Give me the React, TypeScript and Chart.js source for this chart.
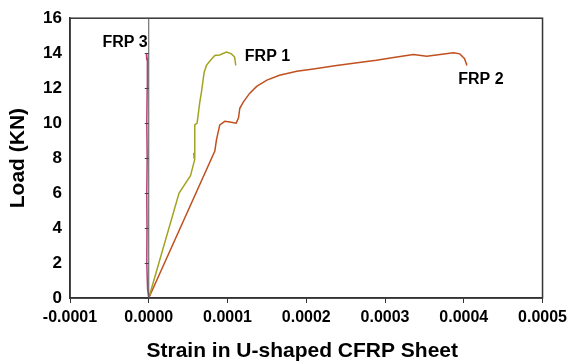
import React, { useEffect, useRef } from "react";
import { Chart, registerables } from "chart.js";

Chart.register(...registerables);

const frp1Strain = [0, 3.85e-5, 5.3e-5, 5.84e-5, 5.7e-5, 5.76e-5, 5.84e-5, 6.14e-5, 6.48e-5, 6.7e-5, 7.03e-5, 7.33e-5, 7.84e-5, 8.39e-5, 9.0e-5, 9.87e-5, 1.05e-4, 1.09e-4, 1.105e-4];
const frp1Load = [0, 6.0, 7.0, 7.93, 8.3, 8.0, 9.9, 10.0, 11.2, 11.8, 12.9, 13.3, 13.6, 13.87, 13.9, 14.06, 13.96, 13.78, 13.3];

const frp2Strain = [0, 8.39e-5, 8.6e-5, 9.02e-5, 9.66e-5, 1.03e-4, 1.11e-4, 1.14e-4, 1.156e-4, 1.2e-4, 1.28e-4, 1.37e-4, 1.5e-4, 1.66e-4, 1.88e-4, 2.09e-4, 2.385e-4, 2.72e-4, 2.89e-4, 3.15e-4, 3.36e-4, 3.53e-4, 3.7e-4, 3.87e-4, 3.95e-4, 4.01e-4, 4.04e-4];
const frp2Load = [0, 8.4, 9.06, 9.9, 10.1, 10.06, 10.0, 10.3, 10.85, 11.2, 11.7, 12.1, 12.46, 12.74, 12.97, 13.1, 13.3, 13.5, 13.6, 13.78, 13.93, 13.82, 13.93, 14.02, 13.96, 13.68, 13.3];

const frp3Strain = [0, -1.5e-6, -2.5e-6, -2.2e-6, -2.5e-6, -2.0e-6, -2.5e-6, -2.0e-6, -2.0e-6, -1.5e-6, -3.0e-6, -2.5e-6];
const frp3Load = [0, 0.5, 2, 4, 6, 8, 10, 12, 13, 13.6, 14, 13.6];

const xTicks = [-0.0001, 0, 0.0001, 0.0002, 0.0003, 0.0004, 0.0005];
const yTicks = [0, 2, 4, 6, 8, 10, 12, 14, 16];

const seriesLabels = [
  { text: "FRP 3", x: -0.0000013, y: 14.6, align: "right" },
  { text: "FRP 1", x: 0.000122, y: 13.8, align: "left" },
  { text: "FRP 2", x: 0.000393, y: 12.5, align: "left" },
];

const toPts = (xs: number[], ys: number[]) => xs.map((x, i) => ({ x, y: ys[i] }));

const FONT = "'Liberation Sans', Arial, sans-serif";

const overlay = {
  id: "overlay",
  afterDraw(chart: any) {
    const { ctx, chartArea, scales } = chart;
    const xs = scales.x;
    const ys = scales.y;
    ctx.save();
    ctx.strokeStyle = "#333";
    ctx.lineWidth = 1.5;
    ctx.strokeRect(chartArea.left, chartArea.top, chartArea.right - chartArea.left, chartArea.bottom - chartArea.top);
    const x0 = xs.getPixelForValue(0);
    ctx.strokeStyle = "#555";
    ctx.lineWidth = 1;
    ctx.beginPath();
    ctx.moveTo(x0, chartArea.top);
    ctx.lineTo(x0, chartArea.bottom);
    ctx.stroke();
    ctx.strokeStyle = "#444";
    yTicks.forEach((t) => {
      const py = Math.round(ys.getPixelForValue(t)) + 0.5;
      ctx.beginPath();
      ctx.moveTo(x0 - 4, py);
      ctx.lineTo(x0, py);
      ctx.stroke();
    });
    ctx.fillStyle = "#000";
    ctx.font = "bold 16px " + FONT;
    ctx.textBaseline = "middle";
    seriesLabels.forEach((l) => {
      ctx.textAlign = l.align as CanvasTextAlign;
      ctx.fillText(l.text, xs.getPixelForValue(l.x), ys.getPixelForValue(l.y));
    });
    ctx.font = "bold 21px " + FONT;
    ctx.textAlign = "center";
    ctx.fillText("Strain in U-shaped CFRP Sheet", (chartArea.left + chartArea.right) / 2 - 4, 351);
    ctx.translate(18, (chartArea.top + chartArea.bottom) / 2);
    ctx.rotate(-Math.PI / 2);
    ctx.fillText("Load (KN)", 0, 0);
    ctx.restore();
  },
};

export default function App() {
  const ref = useRef<HTMLCanvasElement>(null);
  useEffect(() => {
    document.body.style.margin = "0";
    const chart = new Chart(ref.current!, {
      type: "scatter",
      data: {
        datasets: [
          { label: "FRP 3", data: toPts(frp3Strain, frp3Load), showLine: true, borderColor: "#b83c7a", borderWidth: 1.5, pointRadius: 0, tension: 0 },
          { label: "FRP 1", data: toPts(frp1Strain, frp1Load), showLine: true, borderColor: "#a3a321", borderWidth: 1.5, pointRadius: 0, tension: 0 },
          { label: "FRP 2", data: toPts(frp2Strain, frp2Load), showLine: true, borderColor: "#c0501f", borderWidth: 1.5, pointRadius: 0, tension: 0 },
        ],
      },
      options: {
        animation: false,
        responsive: false,
        layout: { padding: { top: 16, right: 29, left: 0, bottom: 0 } },
        plugins: { legend: { display: false }, tooltip: { enabled: false } },
        scales: {
          x: {
            type: "linear",
            min: -0.0001,
            max: 0.0005,
            afterBuildTicks: (s: any) => { s.ticks = xTicks.map((v) => ({ value: v })); },
            afterFit: (s: any) => { s.height = 64; },
            grid: { drawOnChartArea: false, drawTicks: true, tickLength: 5, color: "#333" },
            border: { display: true, color: "#333", width: 1.5 },
            ticks: {
              color: "#000",
              padding: 5,
              maxRotation: 0,
              font: { family: FONT, size: 16, weight: "bold" },
              callback: (v: any) => Number(v).toFixed(4),
            },
          },
          y: {
            type: "linear",
            min: 0,
            max: 16,
            afterBuildTicks: (s: any) => { s.ticks = yTicks.map((v) => ({ value: v })); },
            afterFit: (s: any) => { s.width = 70; },
            grid: { drawOnChartArea: false, drawTicks: false },
            border: { display: true, color: "#333", width: 1.5 },
            ticks: {
              color: "#000",
              padding: 8,
              font: { family: FONT, size: 17, weight: "bold" },
              callback: (v: any) => String(v),
            },
          },
        },
      },
      plugins: [overlay],
    });
    return () => chart.destroy();
  }, []);
  return (
    <div style={{ width: 572, height: 362, background: "#fff" }}>
      <canvas ref={ref} width={572} height={362} />
    </div>
  );
}
